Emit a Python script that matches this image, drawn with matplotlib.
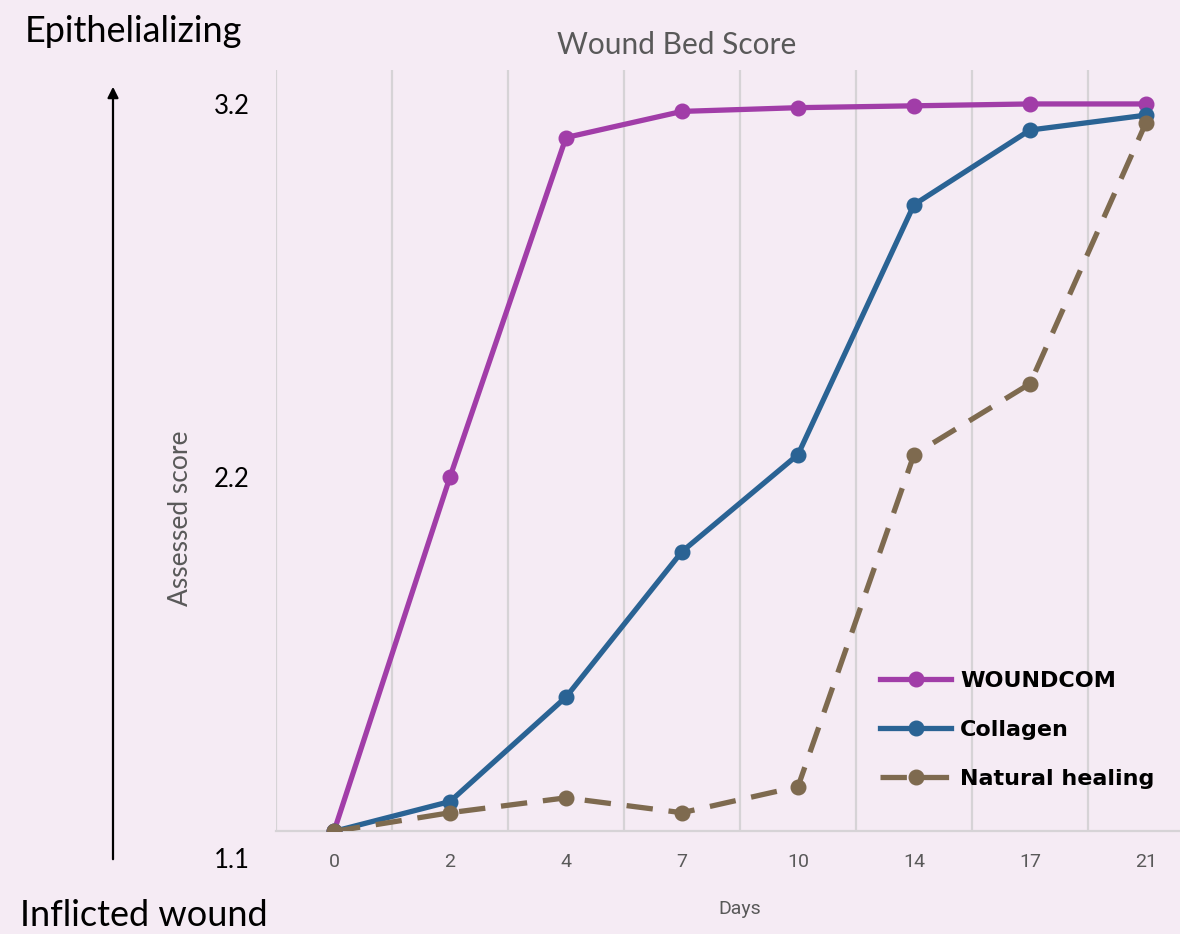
import numpy as np
import matplotlib.pyplot as plt
from matplotlib.transforms import blended_transform_factory

days = ['0', '2', '4', '7', '10', '14', '17', '21']
woundcom = [1.25, 2.20, 3.11, 3.18, 3.19, 3.195, 3.20, 3.20]
collagen = [1.25, 1.33, 1.61, 2.00, 2.26, 2.93, 3.13, 3.17]
natural = [1.25, 1.30, 1.34, 1.30, 1.37, 2.26, 2.45, 3.15]

bg = '#F5EBF4'
gray = '#595959'

fig = plt.figure(figsize=(11.8, 9.34), dpi=100, facecolor=bg)
ax = fig.add_axes([276/1180, 103/934, 928/1180, 761/934], facecolor=bg)

x = np.arange(len(days))
ax.plot(x, woundcom, color='#A13DA8', lw=3.8, marker='o', ms=10.5, label='WOUNDCOM', zorder=3)
ax.plot(x, collagen, color='#2A6394', lw=3.8, marker='o', ms=10.5, label='Collagen', zorder=4)
ax.plot(x, natural, color='#7E6A4F', lw=3.8, marker='o', ms=10.5, dashes=(5, 3),
        label='Natural healing', zorder=5)

ax.set_xlim(-0.5, len(days) - 0.5)
ax.set_ylim(1.251, 3.291)

# gridlines between categories, Excel style
for b in np.arange(-0.5, len(days), 1.0):
    ax.axvline(b, color='#D6D3D6', lw=1.6, zorder=1)

for s in ['top', 'right', 'left']:
    ax.spines[s].set_visible(False)
ax.spines['bottom'].set_color('#D6D3D6')
ax.spines['bottom'].set_linewidth(1.6)

ax.set_xticks(x)
ax.set_xticklabels(days, color=gray, fontsize=14, family='Roboto')
ax.tick_params(axis='x', length=0, pad=16)

ax.set_yticks([2.2, 3.2])
ax.set_yticklabels(['2.2', '3.2'], fontsize=18.5, family='Lato')
ax.tick_params(axis='y', length=0, pad=19)
tr = blended_transform_factory(ax.transAxes, fig.transFigure)
ax.text(-26/928, 1 - 860/934, '1.1', transform=tr, ha='right', va='center',
        fontsize=18.5, family='Lato')

ax.set_xlabel('Days', color=gray, fontsize=14, family='Roboto', labelpad=21)

fig.text(677/1180, 1 - 45/934, 'Wound Bed Score', ha='center', va='center',
         color=gray, fontsize=21.5, family='Lato')
fig.text(180/1180, 1 - 518/934, 'Assessed score', ha='center', va='center',
         rotation=90, color=gray, fontsize=19, family='Lato')
fig.text(25/1180, 1 - 32/934, 'Epithelializing', ha='left', va='center',
         fontsize=26, family='Lato')
fig.text(20/1180, 1 - 915/934, 'Inflicted wound', ha='left', va='center',
         fontsize=26, family='Lato')

fig.patches.append(plt.matplotlib.patches.FancyArrowPatch(
    (113/1180, 1 - 862/934), (113/1180, 1 - 84/934), transform=fig.transFigure,
    arrowstyle='-|>', mutation_scale=16, lw=1.6, color='black'))

leg = ax.legend(loc='lower left', bbox_to_anchor=(584/928, 22/761), frameon=False,
                prop={'family': 'DejaVu Sans', 'weight': 'bold', 'size': 16},
                handlelength=3.2, handletextpad=0.4, labelspacing=1.3)

fig.savefig('out.png', dpi=100, facecolor=bg)
